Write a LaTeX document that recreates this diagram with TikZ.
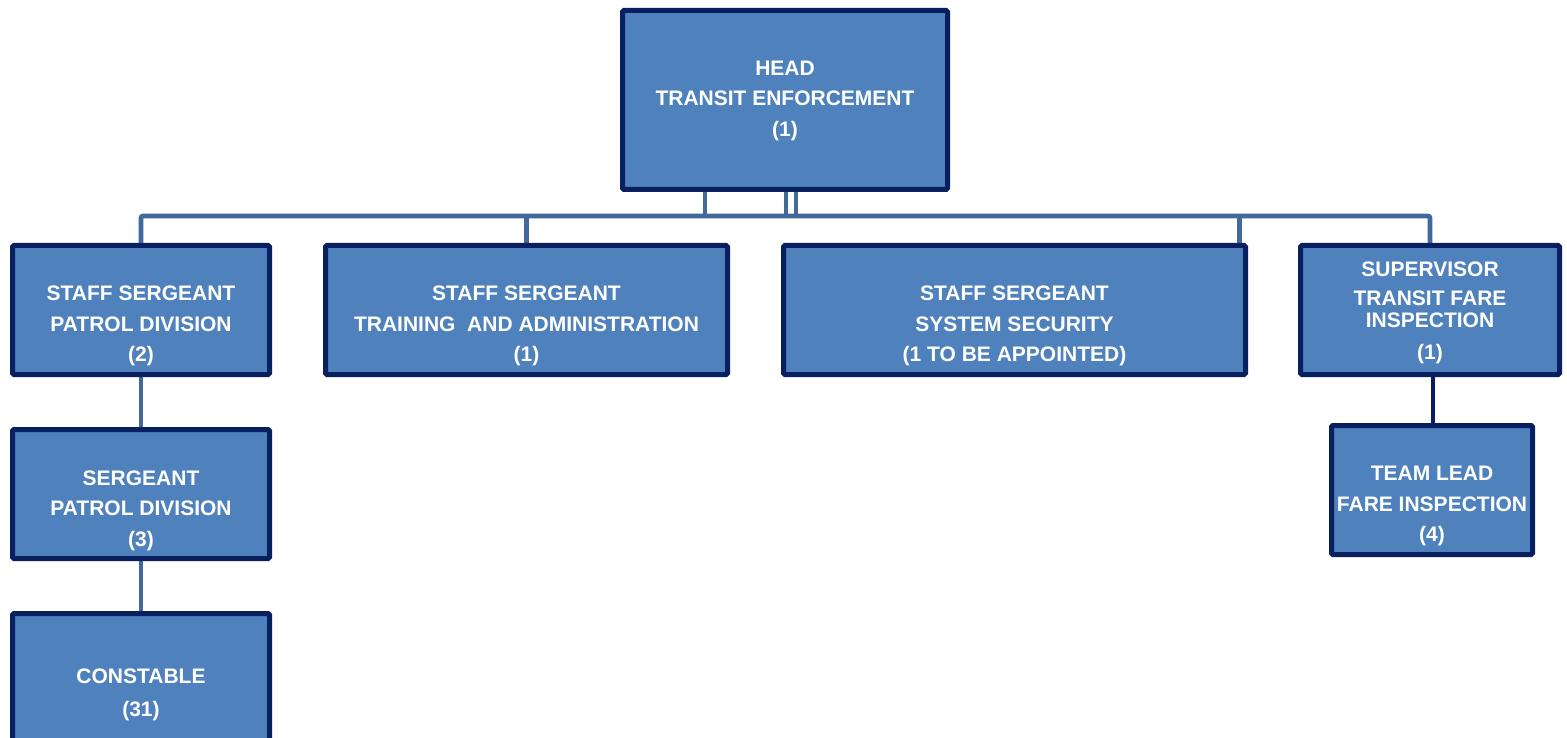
\documentclass[tikz,border=0pt]{standalone}
\usepackage{fontspec}
\setmainfont{Liberation Sans}
\usetikzlibrary{backgrounds}
\definecolor{boxfill}{HTML}{4F81BD}
\definecolor{boxedge}{HTML}{082060}
\definecolor{connc}{HTML}{41699C}
\tikzset{
  box/.style={draw=boxedge, fill=boxfill, line width=5pt, rounded corners=1.5pt, inner sep=0pt},
  txt/.style={text=white, align=center, inner sep=0pt, font=\fontsize{21}{22}\selectfont\bfseries},
  conn/.style={draw=connc, line width=4.7pt, rounded corners=2pt},
  connd/.style={draw=boxedge, line width=4pt}
}
\begin{document}
\begin{tikzpicture}[x=1pt,y=-1pt]
\useasboundingbox (0,0) rectangle (1567,738);
\clip (0,0) rectangle (1567,738);
\coordinate (bus) at (0,216);
% boxes
\node[box, minimum width=325pt, minimum height=179pt] (head) at (785,100) {};
\node[box, minimum width=257pt, minimum height=129pt] (sp) at (141,310) {};
\node[box, minimum width=402pt, minimum height=129pt] (ta) at (526.5,310) {};
\node[box, minimum width=462pt, minimum height=129pt] (ss) at (1014.5,310) {};
\node[box, minimum width=259pt, minimum height=129pt] (sup) at (1430,310) {};
\node[box, minimum width=257pt, minimum height=129pt] (sg) at (141,494) {};
\node[box, minimum width=257pt, minimum height=129pt] (con) at (141,678) {};
\node[box, minimum width=201pt, minimum height=129pt] (tl) at (1432,490) {};
% connectors
\begin{scope}[on background layer]
\fill[white] (0,0) rectangle (1567,738);
\draw[conn] (sp.north) -- (sp.north |- bus) -- (sup.north |- bus) -- (sup.north);
\draw[conn] (ta.north) -- (ta.north |- bus);
\draw[conn] ([xshift=-8.5pt]ss.north east) -- ([xshift=-8.5pt]ss.north east |- bus);
\draw[conn] ([xshift=-80pt]head.south) -- ([xshift=-80pt]head.south |- bus);
\draw[conn] ([xshift=1pt]head.south) -- ([xshift=1pt]head.south |- bus);
\draw[conn] ([xshift=11pt]head.south) -- ([xshift=11pt]head.south |- bus);
\draw[conn] (sp.south) -- (sg.north);
\draw[conn] (sg.south) -- (con.north);
\draw[connd] ([xshift=3pt]sup.south) -- ([xshift=3pt]sup.south |- tl.north);
\end{scope}
% texts
\node[txt] (headt) at (785,100.5) {HEAD\\[8.5pt]TRANSIT ENFORCEMENT\\[8.5pt](1)};
\node[txt] (spt) at (141,326) {STAFF SERGEANT\\[8.5pt]PATROL DIVISION\\[8.5pt](2)};
\node[txt] (tat) at (526.5,326) {STAFF SERGEANT\\[8.5pt]TRAINING\ \ AND ADMINISTRATION\\[8.5pt](1)};
\node[txt] (sst) at (1014.5,326) {STAFF SERGEANT\\[8.5pt]SYSTEM SECURITY\\[8.5pt](1 TO BE APPOINTED)};
\node[txt] (supt) at (1430,312.5) {SUPERVISOR\\[7pt]TRANSIT FARE\\INSPECTION\\[10pt](1)};
\node[txt] (sgt) at (141,510.5) {SERGEANT\\[8.5pt]PATROL DIVISION\\[8.5pt](3)};
\node[txt] (cont) at (141,694.5) {CONSTABLE\\[11pt](31)};
\node[txt] (tlt) at (1432,506) {TEAM LEAD\\[8.5pt]FARE INSPECTION\\[8.5pt](4)};
\end{tikzpicture}
\end{document}
